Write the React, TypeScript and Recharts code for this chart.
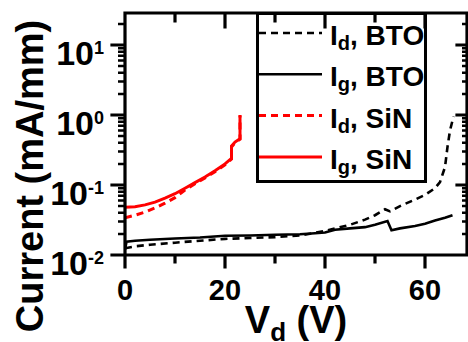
import { LineChart, Line, XAxis, YAxis, Legend } from "recharts"

const FONT = "'Liberation Sans', Arial, Helvetica, sans-serif"

// drain / gate current (mA/mm) vs drain voltage (V)
const idBtoV = [0, 2, 5, 10, 15, 20, 25, 30, 35, 40, 42, 45, 48, 50, 52, 53, 55, 58, 60, 62, 63, 64, 64.5, 65, 65.7]
const idBtoI = [0.0125, 0.0133, 0.014, 0.015, 0.016, 0.017, 0.0175, 0.018, 0.019, 0.022, 0.024, 0.027, 0.032, 0.037, 0.045, 0.042, 0.05, 0.062, 0.072, 0.09, 0.11, 0.18, 0.35, 0.6, 0.95]

const igBtoV = [0, 0.3, 2, 5, 10, 15, 20, 25, 30, 35, 38, 40, 42, 45, 48, 50, 52.5, 53.3, 55, 58, 60, 62, 64, 65.5]
const igBtoI = [0.012, 0.0155, 0.016, 0.0165, 0.0172, 0.0178, 0.0188, 0.019, 0.0195, 0.0198, 0.0205, 0.021, 0.023, 0.024, 0.025, 0.027, 0.0305, 0.0225, 0.024, 0.026, 0.028, 0.031, 0.034, 0.037]

const idSinV = [0, 2, 4, 6, 8, 10, 12, 14, 16, 18, 20, 21.3, 21.3, 22, 23, 23]
const idSinI = [0.034, 0.037, 0.041, 0.047, 0.055, 0.066, 0.085, 0.104, 0.126, 0.155, 0.195, 0.235, 0.35, 0.4, 0.45, 0.98]

const igSinV = [0, 2, 4, 6, 8, 10, 12, 14, 16, 18, 20, 21.3, 21.3, 22, 23, 23]
const igSinI = [0.048, 0.049, 0.052, 0.057, 0.065, 0.075, 0.09, 0.108, 0.13, 0.16, 0.2, 0.24, 0.36, 0.41, 0.46, 1.0]

const xMajorTicks = [0, 20, 40, 60]
const xMinorTicks = [10, 30, 50]
const yMajorTicks = [0.01, 0.1, 1, 10]
const yExponents = ["-2", "-1", "0", "1"]
const yMinorTicks = [
  0.02, 0.03, 0.04, 0.05, 0.06, 0.07, 0.08, 0.09,
  0.2, 0.3, 0.4, 0.5, 0.6, 0.7, 0.8, 0.9,
  2, 3, 4, 5, 6, 7, 8, 9,
  20,
]

const X_DOMAIN = [0, 68.4]
const Y_DOMAIN = [0.01, 28.65]

// plot box in page pixels (margins + axis sizes below give the same box)
const W = 468
const H = 342
const BOX = { left: 125, right: 467, top: 13, bottom: 255 }

const toPoints = (vs: number[], is: number[]) => vs.map((v, k) => ({ v, i: is[k] }))

const series = [
  { key: "idBto", sub: "d", mat: "BTO", color: "#000", dash: "7 5", width: 2.6, data: toPoints(idBtoV, idBtoI) },
  { key: "igBto", sub: "g", mat: "BTO", color: "#000", dash: undefined, width: 2.6, data: toPoints(igBtoV, igBtoI) },
  { key: "idSin", sub: "d", mat: "SiN", color: "#ff0000", dash: "7 5", width: 3, data: toPoints(idSinV, idSinI) },
  { key: "igSin", sub: "g", mat: "SiN", color: "#ff0000", dash: undefined, width: 3, data: toPoints(igSinV, igSinI) },
]

const renderYLabel = ({ x, y, payload }: any) => {
  const k = yMajorTicks.indexOf(payload.value)
  return (
    <text x={x - 21} y={y + 20} textAnchor="end" fontFamily={FONT} fontWeight="bold" fontSize={34} fill="#000">
      10<tspan dy={-11} fontSize={18}>{yExponents[k]}</tspan>
    </text>
  )
}

const renderXLabel = ({ x, y, payload }: any) => (
  <text x={x} y={y + 45} textAnchor="middle" fontFamily={FONT} fontWeight="bold" fontSize={29} fill="#000">
    {payload.value}
  </text>
)

const YTitle = () => (
  <text transform="translate(43,176) rotate(-90)" textAnchor="middle" fontFamily={FONT} fontWeight="bold" fontSize={38} fill="#000">
    Current (mA/mm)
  </text>
)

const XTitle = () => (
  <text x={296} y={333} textAnchor="middle" fontFamily={FONT} fontWeight="bold" fontSize={38} fill="#000">
    V<tspan fontSize={26} dy={8}>d</tspan>
    <tspan dy={-8}> (V)</tspan>
  </text>
)

const LegendBox = () => (
  <svg width={172} height={172} style={{ display: "block" }}>
    <rect x={1.5} y={1.5} width={168} height={168} fill="#fff" stroke="#000" strokeWidth={3} />
    {series.map((s, k) => {
      const ly = 21 + k * 41.3
      return (
        <g key={s.key}>
          <line x1={3} x2={66} y1={ly} y2={ly} stroke={s.color} strokeWidth={s.width} strokeDasharray={s.dash} />
          <text x={74} y={ly + 12} fontFamily={FONT} fontWeight="bold" fontSize={28} fill="#000">
            I<tspan fontSize={20} dy={5}>{s.sub}</tspan>
            <tspan dy={-5}>, {s.mat}</tspan>
          </text>
        </g>
      )
    })}
  </svg>
)

// frame + tick marks (outward on left/bottom, inward on top/right), one path per stroke weight
const sx = (v: number) => BOX.left + ((v - X_DOMAIN[0]) / (X_DOMAIN[1] - X_DOMAIN[0])) * (BOX.right - BOX.left)
const sy = (i: number) => {
  const l0 = Math.log10(Y_DOMAIN[0])
  const l1 = Math.log10(Y_DOMAIN[1])
  return BOX.bottom - ((Math.log10(i) - l0) / (l1 - l0)) * (BOX.bottom - BOX.top)
}

const majorPath = [
  ...xMajorTicks.map((v) => `M${sx(v)},${BOX.bottom}V${BOX.bottom + 12}M${sx(v)},${BOX.top}V${BOX.top + 14}`),
  ...xMinorTicks.map((v) => `M${sx(v)},${BOX.bottom}V${BOX.bottom + 7}M${sx(v)},${BOX.top}V${BOX.top + 8}`),
  ...yMajorTicks.map((i) => `M${BOX.left},${sy(i)}H${BOX.left - 13}M${BOX.right},${sy(i)}H${BOX.right - 10}`),
  `M${BOX.left},${BOX.top}H${BOX.right}V${BOX.bottom}H${BOX.left}Z`,
].join("")

const minorPath = yMinorTicks
  .map((i) => `M${BOX.left},${sy(i)}H${BOX.left - 7}M${BOX.right},${sy(i)}H${BOX.right - 5}`)
  .join("")

const Frame = () => (
  <svg width={W} height={H} style={{ position: "absolute", left: 0, top: 0, pointerEvents: "none" }}>
    <path d={minorPath} stroke="#000" strokeWidth={2.5} fill="none" />
    <path d={majorPath} stroke="#000" strokeWidth={3.2} fill="none" strokeLinecap="square" />
  </svg>
)

export default function App() {
  return (
    <div style={{ position: "absolute", left: 0, top: 0, width: W, height: H, background: "#fff" }}>
      <LineChart width={W} height={H} margin={{ top: BOX.top, right: W - BOX.right, bottom: 0, left: 0 }}>
        <XAxis xAxisId="b" dataKey="v" type="number" domain={X_DOMAIN} allowDataOverflow ticks={xMajorTicks} interval={0}
          height={H - BOX.bottom} tickSize={0} tickMargin={0} tickLine={false} axisLine={false} tick={renderXLabel} label={<XTitle />} />
        <YAxis yAxisId="l" type="number" scale="log" domain={Y_DOMAIN} allowDataOverflow ticks={yMajorTicks} interval={0}
          width={BOX.left} tickSize={0} tickMargin={0} tickLine={false} axisLine={false} tick={renderYLabel} label={<YTitle />} />
        <Legend
          layout="vertical"
          align="center"
          verticalAlign="middle"
          content={<LegendBox />}
          wrapperStyle={{ left: 255.5, top: 11.5, width: 172, height: 172 }}
        />
        {series.map((s) => (
          <Line
            key={s.key}
            xAxisId="b"
            yAxisId="l"
            data={s.data}
            dataKey="i"
            type="linear"
            stroke={s.color}
            strokeWidth={s.width}
            strokeDasharray={s.dash}
            dot={false}
            activeDot={false}
            isAnimationActive={false}
          />
        ))}
      </LineChart>
      <Frame />
    </div>
  )
}
